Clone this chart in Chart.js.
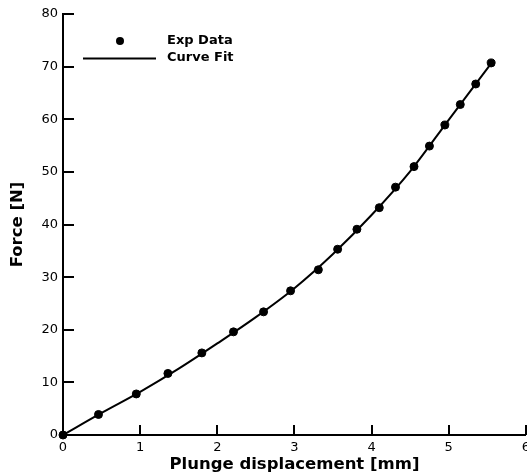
<!DOCTYPE html>
<html>
<head>
<meta charset="utf-8">
<script src="https://cdn.jsdelivr.net/npm/chart.js@4/dist/chart.umd.min.js"></script>
<style>
  html, body { margin: 0; padding: 0; background: #fff; overflow: hidden; }
  #wrap { width: 527px; height: 476px; position: relative; overflow: hidden; }
  #c { display: block; }
</style>
</head>
<body>
<div id="wrap"><canvas id="c" width="535" height="476" style="width:535px;height:476px"></canvas></div>
<script>
const expX = [0, 0.46, 0.95, 1.36, 1.80, 2.21, 2.60, 2.95, 3.31, 3.56, 3.81, 4.10, 4.31, 4.55, 4.75, 4.95, 5.15, 5.35, 5.55];
const expY = [0, 3.9, 7.8, 11.7, 15.6, 19.6, 23.4, 27.4, 31.4, 35.3, 39.1, 43.2, 47.1, 51.0, 54.9, 58.9, 62.8, 66.7, 70.7];
// Curve fit
const fitX = [0, 0.5, 1.0, 1.5, 2.0, 2.5, 3.0, 3.5, 4.0, 4.5, 5.0, 5.57];
const fitY = [0, 4.2, 8.2, 12.6, 17.4, 22.4, 27.9, 34.4, 41.8, 50.1, 59.9, 71.0];
const xTicks = [0, 1, 2, 3, 4, 5, 6];
const yTicks = [0, 10, 20, 30, 40, 50, 60, 70, 80];
const seriesNames = ['Exp Data', 'Curve Fit'];
const xTitle = 'Plunge displacement [mm]';
const yTitle = 'Force [N]';

const expPts = expX.map((x, i) => ({x: x, y: expY[i]}));
const fitPts = fitX.map((x, i) => ({x: x, y: fitY[i]}));

const FONT = 'DejaVu Sans';

const inwardTicks = {
  id: 'inwardTicks',
  afterDatasetsDraw(chart) {
    const ctx = chart.ctx;
    const xs = chart.scales.x, ys = chart.scales.y;
    const ca = chart.chartArea;
    ctx.save();
    ctx.strokeStyle = '#000';
    ctx.lineWidth = 2;
    ctx.beginPath();
    xs.ticks.forEach(t => {
      const px = Math.round(xs.getPixelForValue(t.value));
      ctx.moveTo(px, ca.bottom);
      ctx.lineTo(px, ca.bottom - 10);
    });
    ys.ticks.forEach(t => {
      const py = Math.round(ys.getPixelForValue(t.value));
      ctx.moveTo(ca.left, py);
      ctx.lineTo(ca.left + 11, py);
    });
    ctx.stroke();
    ctx.restore();
  }
};

const innerLegend = {
  id: 'innerLegend',
  afterDraw(chart) {
    const ctx = chart.ctx;
    const ca = chart.chartArea;
    const d0 = chart.data.datasets[0], d1 = chart.data.datasets[1];
    ctx.save();
    ctx.fillStyle = d0.backgroundColor;
    ctx.beginPath();
    ctx.arc(ca.left + 57, ca.top + 27, d0.pointRadius, 0, Math.PI * 2);
    ctx.fill();
    ctx.strokeStyle = d1.borderColor;
    ctx.lineWidth = d1.borderWidth;
    ctx.beginPath();
    ctx.moveTo(ca.left + 20, ca.top + 44.5);
    ctx.lineTo(ca.left + 93, ca.top + 44.5);
    ctx.stroke();
    ctx.fillStyle = '#000';
    ctx.font = 'bold 13px "' + FONT + '"';
    ctx.textBaseline = 'middle';
    ctx.textAlign = 'left';
    ctx.fillText(d0.label, ca.left + 104, ca.top + 27);
    ctx.fillText(d1.label, ca.left + 104, ca.top + 44);
    ctx.restore();
  }
};

new Chart(document.getElementById('c'), {
  type: 'scatter',
  data: {
    datasets: [
      {
        label: seriesNames[0],
        data: expPts,
        backgroundColor: '#000',
        borderColor: '#000',
        pointRadius: 4,
        pointHoverRadius: 4,
        showLine: false,
        clip: false
      },
      {
        label: seriesNames[1],
        data: fitPts,
        borderColor: '#000',
        backgroundColor: '#000',
        borderWidth: 2,
        pointRadius: 0,
        showLine: true,
        cubicInterpolationMode: 'monotone',
        clip: false
      }
    ]
  },
  options: {
    responsive: false,
    animation: false,
    events: [],
    layout: { padding: { top: 14, right: 0, left: 0, bottom: 0 } },
    plugins: { legend: { display: false }, tooltip: { enabled: false } },
    scales: {
      x: {
        type: 'linear',
        min: 0, max: 6,
        afterBuildTicks: s => { s.ticks = xTicks.map(v => ({value: v})); },
        afterFit: s => { s.height = 41; },
        grid: { display: false, drawTicks: false },
        border: { display: true, color: '#000', width: 2 },
        ticks: { color: '#000', font: { family: FONT, size: 13 }, padding: 5, maxRotation: 0, autoSkip: false },
        title: { display: true, text: xTitle, color: '#000', font: { family: FONT, size: 16.5, weight: 'bold' }, padding: { top: 0, bottom: 1 } }
      },
      y: {
        type: 'linear',
        min: 0, max: 80,
        afterBuildTicks: s => { s.ticks = yTicks.map(v => ({value: v})); },
        afterFit: s => { s.width = 63; },
        grid: { display: false, drawTicks: false },
        border: { display: true, color: '#000', width: 2 },
        ticks: { color: '#000', font: { family: FONT, size: 13 }, padding: 5, autoSkip: false },
        title: { display: true, text: yTitle, color: '#000', font: { family: FONT, size: 16.5, weight: 'bold' }, padding: { top: 8, bottom: 0 } }
      }
    }
  },
  plugins: [inwardTicks, innerLegend]
});
</script>
</body>
</html>
